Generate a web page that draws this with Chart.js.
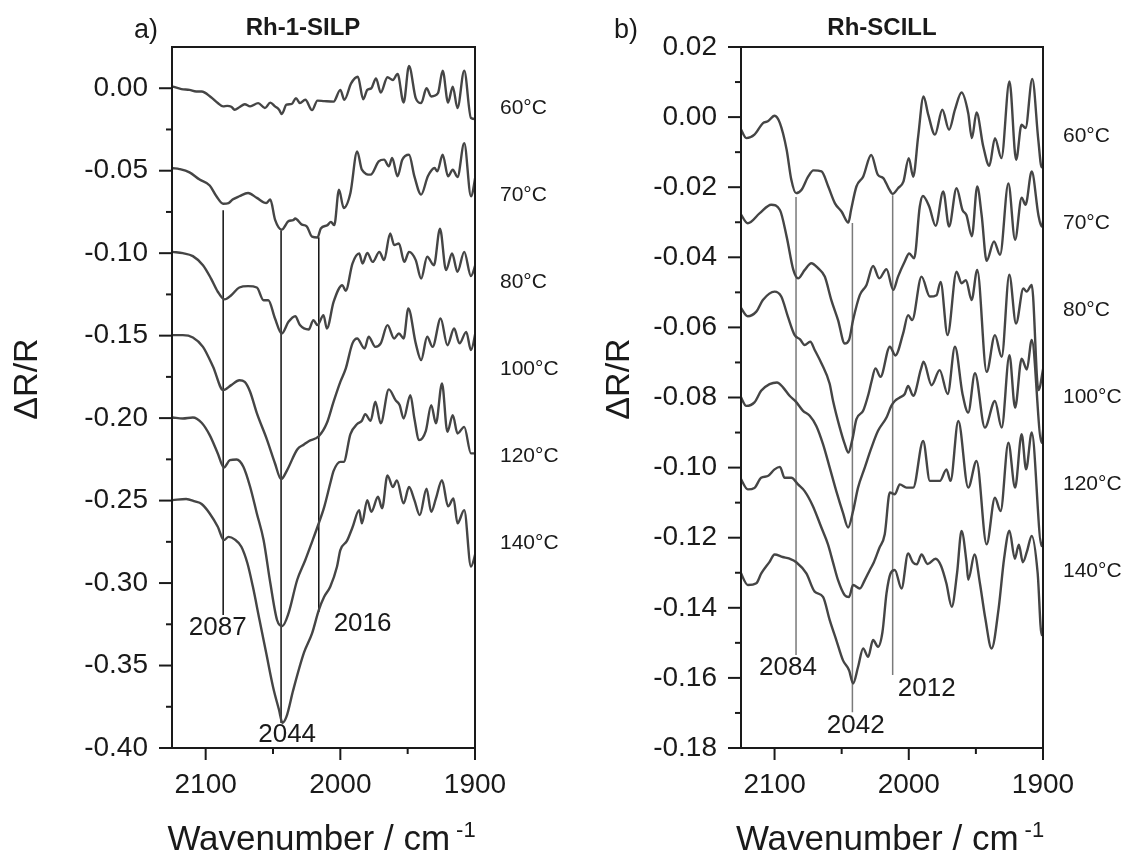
<!DOCTYPE html>
<html>
<head>
<meta charset="utf-8">
<script src="https://cdn.jsdelivr.net/npm/chart.js@4.4.0/dist/chart.umd.min.js"></script>
<style>
  html, body { margin: 0; padding: 0; background: #fff; }
  #wrap { position: relative; width: 1128px; height: 859px; }
  .panel { position: absolute; top: 0; width: 564px; height: 859px; }
</style>
</head>
<body>
<div id="wrap">
  <div class="panel" style="left:0"><canvas id="chartA"></canvas></div>
  <div class="panel" style="left:564px"><canvas id="chartB"></canvas></div>
</div>
<script>
// ---- panel a) Rh-1-SILP : wavenumber (cm-1) / dR/R ----
const wnA60 = [2124.5,2118,2112,2107,2103,2096,2091,2087,2084,2081,2078.5,2075,2071,2067,2061,2056,2052,2048.5,2045.5,2043.5,2040,2036,2033,2030,2026,2021,2017,2012,2005,2000,1997,1992,1987,1983,1980,1977,1973.5,1970,1965,1961,1957.5,1953,1949,1944,1940,1936,1932.5,1927.5,1924,1920,1916.5,1913,1908,1903,1899.5];
const rA60 = [0.001,-0.0005,-0.001,-0.002,-0.002,-0.0055,-0.009,-0.011,-0.0107,-0.0112,-0.013,-0.0115,-0.0097,-0.011,-0.009,-0.012,-0.0087,-0.011,-0.013,-0.0156,-0.010,-0.0095,-0.006,-0.009,-0.007,-0.0133,-0.0075,-0.0078,-0.0081,-0.001,-0.007,0.003,0.007,-0.0067,-0.001,0.000,0.006,-0.0026,0.0067,0.005,0.0087,-0.0087,0.0135,-0.006,-0.009,0.000,-0.005,-0.003,0.0107,-0.0087,0.001,-0.012,0.0107,-0.018,-0.0187];

const wnA70 = [2124.5,2119.5,2112,2104.5,2097,2092,2087,2083,2080,2075,2068.5,2062,2055,2052,2048.5,2043.5,2038.5,2035,2033.5,2028.5,2025,2021,2017,2014.5,2009.5,2007,2004.5,2001,1997.5,1992.5,1987.5,1984,1977.5,1971.5,1967.5,1964,1961.5,1957.5,1954,1949,1945,1940,1935,1930,1928,1924,1920,1916.5,1913,1908,1903,1899];
const rA70 = [-0.0484,-0.049,-0.051,-0.0554,-0.059,-0.0655,-0.070,-0.0696,-0.0675,-0.0655,-0.0635,-0.0665,-0.0696,-0.0675,-0.0796,-0.0857,-0.0806,-0.080,-0.079,-0.0827,-0.0837,-0.090,-0.0905,-0.085,-0.083,-0.081,-0.083,-0.0615,-0.0726,-0.0635,-0.0383,-0.0494,-0.0524,-0.0444,-0.0433,-0.0474,-0.0423,-0.0534,-0.0433,-0.0403,-0.0534,-0.0645,-0.0534,-0.0484,-0.0504,-0.0403,-0.0534,-0.0494,-0.0538,-0.0333,-0.0655,-0.0504];

const wnA80 = [2124.5,2117,2109.5,2102,2096,2091,2086,2081,2075,2068.5,2062,2057,2053.5,2048.5,2043.5,2038.5,2033.5,2030,2023.5,2020,2017,2012.5,2010,2005,1998.5,1996,1991,1986,1983.5,1980,1976,1971,1967.5,1963,1960,1956.5,1952.5,1949,1944,1940,1935.5,1930.5,1926,1921.5,1917,1913,1908,1903,1899];
const rA80 = [-0.0992,-0.100,-0.1018,-0.1073,-0.1154,-0.1234,-0.128,-0.1255,-0.1208,-0.120,-0.1208,-0.1285,-0.1285,-0.1396,-0.1487,-0.1416,-0.1382,-0.1436,-0.1463,-0.1406,-0.1436,-0.1376,-0.1457,-0.1295,-0.1194,-0.1228,-0.1063,-0.1002,-0.1063,-0.0998,-0.1053,-0.0992,-0.1042,-0.088,-0.0951,-0.0941,-0.1053,-0.0992,-0.1042,-0.1154,-0.1022,-0.1073,-0.0851,-0.1103,-0.1002,-0.1113,-0.0992,-0.1139,-0.1053];

const wnA100 = [2124.5,2117,2109.5,2102,2094.5,2087,2081,2075,2071,2067,2062,2054.5,2048.5,2044,2039.5,2032,2027,2023.5,2016,2010,2005,2000,1996,1991,1987.5,1982,1979,1974,1970,1965,1960,1956.5,1953,1949.5,1944,1940,1935.5,1931.5,1925.5,1920.5,1915.5,1911.5,1906.5,1903,1899];
const rA100 = [-0.1497,-0.1497,-0.1511,-0.1568,-0.1689,-0.183,-0.180,-0.177,-0.178,-0.184,-0.197,-0.213,-0.2275,-0.237,-0.2315,-0.219,-0.216,-0.214,-0.211,-0.203,-0.190,-0.178,-0.170,-0.1547,-0.1517,-0.1578,-0.1507,-0.1568,-0.1547,-0.1436,-0.1517,-0.1487,-0.1517,-0.1335,-0.1547,-0.1648,-0.1507,-0.1568,-0.1396,-0.1558,-0.1457,-0.1547,-0.1477,-0.1588,-0.1455];

const wnA120 = [2124.5,2117,2109.5,2103,2097,2091,2086.5,2082,2077,2072,2067,2062,2057,2052,2047,2043,2038.5,2032,2026,2021,2017,2012,2007,2005,2000,1997.5,1992.5,1987.5,1984,1981.5,1977.5,1974,1970,1964,1959,1956,1953,1948,1945,1941.5,1936.5,1932.5,1929,1924.5,1920.5,1916.5,1913,1908,1903,1899];
const rA120 = [-0.1996,-0.2002,-0.1996,-0.2028,-0.2103,-0.2214,-0.2299,-0.2255,-0.2251,-0.2295,-0.2416,-0.2578,-0.2739,-0.300,-0.3224,-0.326,-0.3184,-0.298,-0.286,-0.275,-0.266,-0.254,-0.238,-0.232,-0.2265,-0.2265,-0.2097,-0.2036,-0.2016,-0.1976,-0.2016,-0.1901,-0.2032,-0.1826,-0.1891,-0.1921,-0.2002,-0.1861,-0.2002,-0.2133,-0.2077,-0.1921,-0.2032,-0.179,-0.2083,-0.1982,-0.2093,-0.2053,-0.2214,-0.2214];

const wnA140 = [2124.5,2114.5,2108,2103,2097,2091,2086.5,2083,2078.5,2073.5,2069,2065,2060,2055,2050,2045.5,2043,2040,2035,2027,2021,2016,2012,2007.5,2002.5,2000,1995,1991,1986,1984,1980,1977,1972,1969,1965,1961,1958,1953,1949,1945,1941,1936,1932.5,1929,1924.5,1920,1916,1913,1908,1903,1899];
const rA140 = [-0.2497,-0.249,-0.2505,-0.2521,-0.2578,-0.2659,-0.274,-0.272,-0.2735,-0.278,-0.288,-0.302,-0.3224,-0.3426,-0.3628,-0.377,-0.3847,-0.381,-0.3649,-0.3422,-0.3305,-0.3164,-0.3083,-0.3022,-0.2901,-0.280,-0.2743,-0.2663,-0.2558,-0.2638,-0.2497,-0.2568,-0.2477,-0.2547,-0.2347,-0.2418,-0.2378,-0.2517,-0.2418,-0.2497,-0.2588,-0.2428,-0.2568,-0.2487,-0.2376,-0.2535,-0.2487,-0.2638,-0.2558,-0.290,-0.280];

const peaksA = [2087, 2044, 2016];
const peakTopA = [-0.0739, -0.0861, -0.0903];
const peakBottomA = [-0.3194, -0.3848, -0.3176];
const peakLabelA = [[2091, -0.327], [2039.5, -0.392], [1983.5, -0.325]];

// ---- panel b) Rh-SCILL ----
const wnB60 = [2125.6,2121,2115,2108.6,2105,2100,2096,2091,2087.5,2084,2080,2075,2071,2065,2060,2055,2050,2045,2043,2039,2034,2028,2023,2019,2015,2012,2008,2004,2000,1996.7,1993,1989,1985.5,1980.5,1975,1970,1965.6,1960.7,1955.7,1953,1949.5,1944.5,1940,1935.8,1931,1925,1920,1916,1913,1908,1903.5,1901,1899.5];
const rB60 = [-0.0031,-0.006,-0.005,-0.0017,-0.0012,0.0004,-0.0017,-0.0093,-0.0179,-0.0217,-0.0208,-0.017,-0.0152,-0.0155,-0.0198,-0.0246,-0.027,-0.0301,-0.0265,-0.0198,-0.017,-0.0108,-0.0165,-0.0174,-0.0203,-0.0219,-0.0203,-0.0184,-0.0117,-0.017,-0.0055,0.0059,0.0007,-0.005,0.0021,-0.0036,0.0021,0.007,0.0011,-0.006,0.0013,-0.0084,-0.0139,-0.006,-0.0117,0.0102,-0.0122,-0.0022,-0.0031,0.0109,-0.0065,-0.0143,-0.0136];

const wnB70 = [2125.6,2120,2111,2102.5,2096,2091,2086,2082.5,2077.5,2072.6,2067.6,2062.6,2057.7,2052.7,2047.7,2044.5,2041.5,2036.5,2031.5,2026.6,2022,2016.6,2011.6,2008,2003,1999.7,1996,1991.8,1989.5,1984.8,1980,1974.3,1970,1964.4,1960,1957,1953,1949,1945.7,1942,1936.5,1932,1925.8,1920.8,1915.9,1913,1908.4,1903.4,1901,1899.2];
const rB70 = [-0.0274,-0.0303,-0.0274,-0.025,-0.0265,-0.0341,-0.0436,-0.046,-0.0436,-0.0417,-0.0431,-0.0455,-0.0522,-0.0579,-0.0646,-0.0636,-0.0579,-0.0508,-0.0479,-0.0425,-0.046,-0.0434,-0.0493,-0.0455,-0.0412,-0.0389,-0.0403,-0.0255,-0.0225,-0.0255,-0.031,-0.0212,-0.0312,-0.0203,-0.0265,-0.028,-0.034,-0.0198,-0.028,-0.041,-0.0355,-0.0393,-0.0189,-0.035,-0.023,-0.025,-0.0155,-0.028,-0.0312,-0.028];

const wnB80 = [2125.6,2120,2113.6,2108.7,2100,2095,2090,2085,2081,2077.6,2073.4,2070,2065,2059,2056.4,2051.4,2047.7,2045,2042,2039,2034,2030,2027.8,2024.8,2021.1,2014.1,2010,2004.2,2000.5,1997.5,1990.5,1984.3,1979.3,1976.3,1971.1,1964.4,1960.7,1957.4,1953.2,1949,1942,1935.8,1930.8,1925.1,1920.1,1914.6,1912.2,1908.4,1903.4,1899.5];
const rB80 = [-0.0541,-0.0568,-0.0555,-0.0522,-0.0498,-0.0512,-0.057,-0.0622,-0.0634,-0.065,-0.0641,-0.0665,-0.0703,-0.076,-0.081,-0.0886,-0.0933,-0.0957,-0.0919,-0.0862,-0.0838,-0.079,-0.0755,-0.0717,-0.0741,-0.0655,-0.068,-0.0617,-0.0565,-0.0579,-0.0455,-0.0512,-0.0508,-0.047,-0.0622,-0.0441,-0.0474,-0.0465,-0.0522,-0.0436,-0.0727,-0.0622,-0.0684,-0.045,-0.0589,-0.0489,-0.0498,-0.0479,-0.0779,-0.071];

const wnB100 = [2125.6,2121,2115,2110,2103.7,2098.2,2093.7,2088.8,2084.3,2078.8,2073.8,2068.9,2063.9,2058.9,2054,2049,2045.2,2041.5,2037.8,2032.8,2027.8,2022.9,2016.6,2013,2010.4,2006.7,2003,2000.5,1996.7,1991,1989,1983,1977,1971,1965.6,1960,1955.7,1950.7,1943.3,1935.8,1930.8,1925,1920.8,1915.9,1912,1908.4,1901,1899.5];
const rB100 = [-0.0795,-0.0824,-0.0814,-0.0781,-0.0762,-0.0757,-0.0771,-0.0795,-0.0811,-0.0838,-0.0852,-0.0881,-0.0933,-0.100,-0.1067,-0.1129,-0.1171,-0.1124,-0.1057,-0.100,-0.0943,-0.0895,-0.0857,-0.0824,-0.081,-0.080,-0.079,-0.0767,-0.0795,-0.072,-0.0698,-0.0765,-0.0722,-0.079,-0.0655,-0.0789,-0.0843,-0.0731,-0.0886,-0.081,-0.0886,-0.0679,-0.0829,-0.0689,-0.072,-0.0636,-0.0929,-0.0876];

const wnB120 = [2125.6,2119.9,2115,2110,2105,2100,2096,2092.5,2087.5,2082.5,2077.6,2071.4,2065.1,2060.2,2056.4,2052.7,2047.7,2044.5,2041.5,2036.5,2032.8,2029,2026,2022,2017.9,2014.1,2010.4,2006.7,2001.7,1996.7,1989.3,1984.3,1976.8,1971.9,1968.9,1963.1,1955.7,1949.5,1942,1935.8,1931.6,1925.8,1920.8,1915.9,1912.6,1908.4,1901,1899.2];
const rB120 = [-0.1029,-0.1062,-0.1058,-0.1029,-0.1024,-0.1005,-0.0998,-0.1029,-0.1029,-0.1048,-0.1067,-0.111,-0.1171,-0.1219,-0.1271,-0.1321,-0.1364,-0.1369,-0.1335,-0.1345,-0.1321,-0.1292,-0.127,-0.123,-0.119,-0.1071,-0.1076,-0.1048,-0.1057,-0.1057,-0.0924,-0.1038,-0.1038,-0.1005,-0.1038,-0.0867,-0.1057,-0.0981,-0.1219,-0.1086,-0.1124,-0.0929,-0.1057,-0.0905,-0.1005,-0.090,-0.1224,-0.118];

const wnB140 = [2125.6,2119.9,2113.6,2109.9,2103.7,2100,2094,2088.8,2083.8,2076.3,2070.1,2063.9,2058.9,2054,2049,2044.5,2041.5,2037.8,2034,2030.3,2026.6,2022.9,2019.6,2016.6,2013.6,2010.4,2005.4,2000.5,1997,1994,1990.5,1986,1980,1976,1972,1968,1964,1960.7,1957,1955.7,1951,1947,1943,1938.3,1933,1929,1925,1921,1918,1915,1912,1908.4,1904,1901,1899.5];
const rB140 = [-0.1297,-0.1335,-0.133,-0.1302,-0.1269,-0.1248,-0.1255,-0.126,-0.127,-0.1302,-0.1354,-0.1369,-0.1435,-0.1492,-0.155,-0.1578,-0.1616,-0.1569,-0.1516,-0.154,-0.1492,-0.1511,-0.1469,-0.1359,-0.1302,-0.1292,-0.1345,-0.1245,-0.127,-0.1276,-0.1248,-0.1275,-0.126,-0.128,-0.133,-0.1397,-0.130,-0.1181,-0.127,-0.132,-0.1248,-0.133,-0.143,-0.1516,-0.140,-0.126,-0.118,-0.126,-0.122,-0.127,-0.124,-0.1195,-0.130,-0.1478,-0.145];

const peaksB = [2084, 2042, 2012];
const peakTopB = [-0.0228, -0.0302, -0.0223];
const peakBottomB = [-0.1535, -0.1698, -0.1592];
const peakLabelB = [[2090, -0.1572], [2039.5, -0.1738], [1986.6, -0.163]];

const temps = ['60°C', '70°C', '80°C', '100°C', '120°C', '140°C'];

const FONT = '"Liberation Sans", Arial, Helvetica, sans-serif';
const curveColor = '#454545';
const inkColor = '#1a1a1a';

// frame, tick marks (major/minor) and all the loose text
const panelDecor = {
  id: 'panelDecor',
  afterDraw(chart, args, o) {
    const ctx = chart.ctx;
    const a = chart.chartArea;
    const xs = chart.scales.x, ys = chart.scales.y;
    ctx.save();
    ctx.strokeStyle = inkColor;
    ctx.lineWidth = 2;
    ctx.strokeRect(a.left, a.top, a.right - a.left, a.bottom - a.top);

    ys.ticks.forEach(t => {
      if (t.label === '' && Math.abs(t.value - ys.max) < 1e-9) return; // no stub at the top corner
      const y = ys.getPixelForValue(t.value);
      const len = t.label === '' ? 6 : 13;
      ctx.beginPath(); ctx.moveTo(a.left - len, y); ctx.lineTo(a.left, y); ctx.stroke();
    });
    xs.ticks.forEach(t => {
      const x = xs.getPixelForValue(t.value);
      const len = t.label === '' ? 6 : 12;
      ctx.beginPath(); ctx.moveTo(x, a.bottom); ctx.lineTo(x, a.bottom + len); ctx.stroke();
    });

    ctx.fillStyle = inkColor;
    ctx.textBaseline = 'middle';

    // peak position labels
    ctx.textAlign = 'center';
    ctx.font = '26px ' + FONT;
    o.peakText.forEach((p, i) => {
      ctx.fillText(String(o.peaks[i]), xs.getPixelForValue(p[0]), ys.getPixelForValue(p[1]));
    });

    // temperature labels
    ctx.textAlign = 'left';
    ctx.font = '21px ' + FONT;
    temps.forEach((t, i) => ctx.fillText(t, a.right + o.tempDx, a.top + o.tempTop + i * 87));

    // panel letter and title
    ctx.font = '27px ' + FONT;
    ctx.textAlign = 'center';
    ctx.fillText(o.letter, o.letterX, 31);
    ctx.font = 'bold 24px ' + FONT;
    ctx.fillText(o.title, o.titleX, 28);

    // y axis title
    ctx.save();
    ctx.translate(o.yTitleX, 379);
    ctx.rotate(-Math.PI / 2);
    ctx.font = '34px ' + FONT;
    ctx.fillText('\u0394R/R', 0, 0);
    ctx.restore();

    // x axis title with superscript
    ctx.textBaseline = 'alphabetic';
    ctx.textAlign = 'left';
    ctx.font = '35px ' + FONT;
    const main = 'Wavenumber / cm';
    const w1 = ctx.measureText(main).width;
    ctx.font = '22px ' + FONT;
    const w2 = ctx.measureText('-1').width;
    const x0 = (a.left + a.right) / 2 - 2 - (w1 + 6 + w2) / 2;
    ctx.font = '35px ' + FONT;
    ctx.fillText(main, x0, 850);
    ctx.font = '22px ' + FONT;
    ctx.fillText('-1', x0 + w1 + 6, 837);
    ctx.restore();
  }
};

function toPoints(wns, vals) {
  return wns.map((w, i) => ({ x: w, y: vals[i] }));
}

function makePanel(id, p) {
  const datasets = p.series.map(s => ({
    data: toPoints(s[0], s[1]),
    borderColor: curveColor,
    borderWidth: 2.4,
    pointRadius: 0,
    cubicInterpolationMode: 'monotone',
    fill: false
  }));
  p.peaks.forEach((wn, i) => datasets.push({
    data: [{ x: wn, y: p.top[i] }, { x: wn, y: p.bottom[i] }],
    borderColor: p.markColor,
    borderWidth: 1.5,
    pointRadius: 0,
    fill: false
  }));

  return new Chart(document.getElementById(id), {
    type: 'line',
    data: { datasets },
    options: {
      responsive: true,
      maintainAspectRatio: false,
      animation: false,
      layout: { padding: { left: 0, top: 47, right: p.padRight, bottom: 0 } },
      plugins: {
        legend: { display: false },
        tooltip: { enabled: false },
        panelDecor: p.decor
      },
      scales: {
        x: {
          type: 'linear',
          reverse: true,
          min: 1900,
          max: 2125,
          afterFit: s => { s.height = 111; },
          border: { display: false },
          grid: { color: 'rgba(0,0,0,0)', drawTicks: true, tickLength: 12 },
          ticks: {
            stepSize: 50,
            includeBounds: false,
            autoSkip: false,
            maxRotation: 0,
            padding: 8,
            color: inkColor,
            font: { family: FONT, size: 28 },
            callback: v => (Math.round(v) % 100 === 0 ? String(Math.round(v)) : '')
          }
        },
        y: {
          min: p.yMin,
          max: p.yMax,
          afterFit: s => { s.width = p.yWidth; },
          border: { display: false },
          grid: { color: 'rgba(0,0,0,0)', drawTicks: true, tickLength: 13 },
          ticks: {
            stepSize: p.yStep,
            includeBounds: false,
            autoSkip: false,
            padding: 11,
            color: inkColor,
            font: { family: FONT, size: 28 },
            callback: v => {
              const k = Math.round(v * 1000);
              return k % p.yMajor === 0 ? (k / 1000).toFixed(2) : '';
            }
          }
        }
      }
    },
    plugins: [panelDecor]
  });
}

makePanel('chartA', {
  series: [[wnA60, rA60], [wnA70, rA70], [wnA80, rA80], [wnA100, rA100], [wnA120, rA120], [wnA140, rA140]],
  peaks: peaksA, top: peakTopA, bottom: peakBottomA, markColor: '#111',
  yMin: -0.40, yMax: 0.025, yStep: 0.025, yMajor: 50, yWidth: 172, padRight: 89,
  decor: { peaks: peaksA, peakText: peakLabelA, tempDx: 25, tempTop: 61, letter: 'a)', letterX: 146,
           title: 'Rh-1-SILP', titleX: 303, yTitleX: 28 }
});

makePanel('chartB', {
  series: [[wnB60, rB60], [wnB70, rB70], [wnB80, rB80], [wnB100, rB100], [wnB120, rB120], [wnB140, rB140]],
  peaks: peaksB, top: peakTopB, bottom: peakBottomB, markColor: '#7a7a7a',
  yMin: -0.18, yMax: 0.02, yStep: 0.01, yMajor: 20, yWidth: 177, padRight: 85,
  decor: { peaks: peaksB, peakText: peakLabelB, tempDx: 20, tempTop: 89, letter: 'b)', letterX: 62,
           title: 'Rh-SCILL', titleX: 318, yTitleX: 56 }
});
</script>
</body>
</html>
